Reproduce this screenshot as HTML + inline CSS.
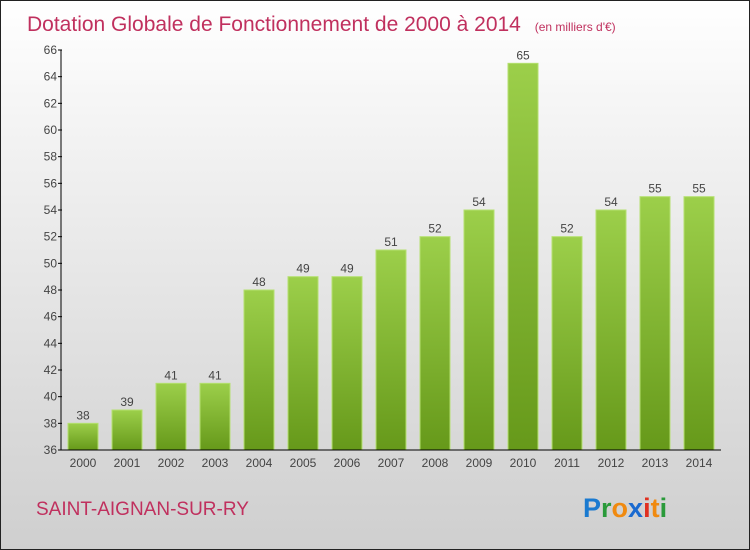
<!DOCTYPE html>
<html><head><meta charset="utf-8"><style>
body{margin:0}
#c{width:750px;height:550px;position:relative;box-sizing:border-box;border:1px solid #222;background:linear-gradient(#ffffff,#f0f0f0 30%,#d8d8d8 80%,#cfcfcf);font-family:"Liberation Sans",sans-serif;overflow:hidden}
</style></head><body>
<div id="c">
<svg width="748" height="548">
<defs><linearGradient id="g" x1="0" y1="0" x2="0" y2="1"><stop offset="0" stop-color="#9ccf4a"/><stop offset="1" stop-color="#66991a"/></linearGradient></defs>
<text x="26" y="30" font-size="21" fill="#c0305e">Dotation Globale de Fonctionnement de 2000 à 2014 <tspan font-size="12" dx="8">(en milliers d'€)</tspan></text>
<g id="plot"></g>
<text x="35" y="514" font-size="19" fill="#c0305e">SAINT-AIGNAN-SUR-RY</text>
<g font-size="27" font-weight="bold">
<text x="582" y="516" fill="#1a7ad0">P<tspan fill="#2a9a3a">r</tspan><tspan fill="#f08a10">o</tspan><tspan fill="#1a6ad0">x</tspan><tspan fill="#e03020">i</tspan><tspan fill="#f08a10">t</tspan><tspan fill="#2a9a3a">i</tspan></text>
</g>
</svg></div>
<script>
const years=["2000","2001","2002","2003","2004","2005","2006","2007","2008","2009","2010","2011","2012","2013","2014"];
const values=[38,39,41,41,48,49,49,51,52,54,65,52,54,55,55];
const yTicks=[36,38,40,42,44,46,48,50,52,54,56,58,60,62,64,66];
const ns="http://www.w3.org/2000/svg",g=document.getElementById('plot');
const y0=449,yMin=36,yMax=66,yTop=49,x0=60,step=44,bw=30;
const Y=v=>y0-(v-yMin)/(yMax-yMin)*(y0-yTop);
const X=i=>x0+22+i*step;
function el(t,a,txt){const e=document.createElementNS(ns,t);for(const k in a)e.setAttribute(k,a[k]);if(txt!==undefined)e.textContent=txt;g.appendChild(e);return e;}
values.forEach((v,i)=>{
const r=el('rect',{x:X(i)-bw/2,y:Y(v),width:bw,height:y0-Y(v),fill:'url(#g)',stroke:'#b5e070','stroke-width':1});


const t=el('text',{x:X(i),y:Y(v)-4,'text-anchor':'middle','font-size':12,fill:'#444'},v);


const xl=el('text',{x:X(i),y:466,'text-anchor':'middle','font-size':12,fill:'#444'},years[i]);


});
yTicks.forEach(v=>{
const l=el('line',{x1:x0-3,x2:x0+1,y1:Y(v),y2:Y(v),stroke:'#000'});


const t=el('text',{x:x0-4,y:Y(v)+4,'text-anchor':'end','font-size':12,fill:'#444'},v);


});
const ya=el('line',{x1:x0,x2:x0,y1:yTop,y2:y0,stroke:'#000'});


const xa=el('line',{x1:x0,x2:720,y1:y0,y2:y0,stroke:'#000'});


</script>
</body></html>
